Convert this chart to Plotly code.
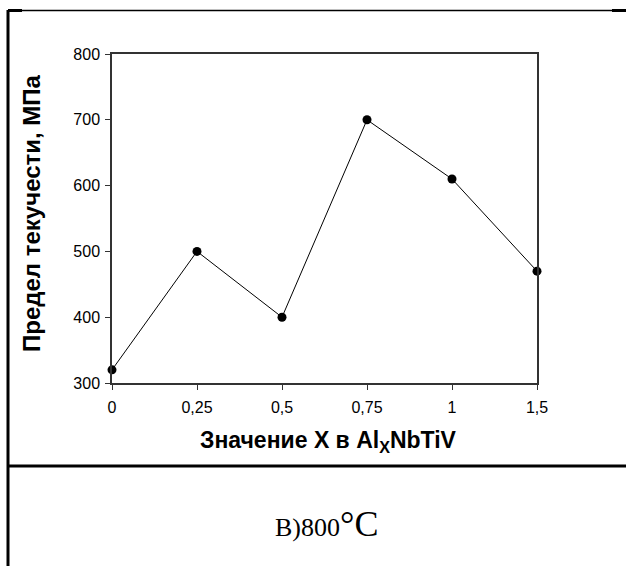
import plotly.graph_objects as go

x_labels = ["0", "0,25", "0,5", "0,75", "1", "1,5"]
yield_strength = [320, 500, 400, 700, 610, 470]
y_ticks = [300, 400, 500, 600, 700, 800]

W, H = 626, 566
L, R, T, B = 112, 537, 54, 383  # plot area in pixels


def px(x):
    return (x - L) / (R - L)


def py(y):
    return (B - y) / (B - T)


fig = go.Figure()
fig.add_trace(go.Scatter(
    x=x_labels, y=yield_strength, mode="lines+markers",
    line=dict(color="black", width=1),
    marker=dict(color="black", size=9),
    showlegend=False, cliponaxis=False,
))

axis_common = dict(
    showgrid=False, zeroline=False, showline=True, linecolor="#333",
    linewidth=1.5, mirror=True, ticks="outside", ticklen=5, tickwidth=1,
    tickcolor="#333",
    tickfont=dict(family="Liberation Sans, Arial", size=16, color="black"),
)

fig.update_layout(
    width=W, height=H,
    margin=dict(l=L, r=W - R, t=T, b=H - B),
    paper_bgcolor="white", plot_bgcolor="white",
    xaxis=dict(type="category", range=[0, 5], ticklabelstandoff=4, **axis_common),
    yaxis=dict(range=[300, 800], tickvals=y_ticks, ticklabelstandoff=2, **axis_common),
)

# axis titles
fig.add_annotation(
    xref="paper", yref="paper", x=px(328), y=py(441),
    text="<b>Значение X в Al<sub>X</sub>NbTiV</b>", showarrow=False,
    font=dict(family="Liberation Sans, Arial", size=23, color="black"),
    xanchor="center", yanchor="middle",
)
fig.add_annotation(
    xref="paper", yref="paper", x=px(31), y=py(213),
    text="<b>Предел текучести, МПа</b>", showarrow=False, textangle=-90,
    font=dict(family="Liberation Sans, Arial", size=24, color="black"),
    xanchor="center", yanchor="middle",
)

# caption
fig.add_annotation(
    xref="paper", yref="paper", x=px(326), y=py(524),
    text="В)800<span style='font-size:36px'>°С</span>", showarrow=False,
    font=dict(family="Liberation Serif, Times New Roman", size=26, color="black"),
    xanchor="center", yanchor="middle",
)

# table borders
line_style = dict(color="black", width=3)
fig.add_shape(type="line", xref="paper", yref="paper",
              x0=px(8), x1=px(8), y0=py(10), y1=py(566), line=line_style)
fig.add_shape(type="line", xref="paper", yref="paper",
              x0=px(8), x1=px(626), y0=py(466), y1=py(466), line=line_style)
fig.add_shape(type="line", xref="paper", yref="paper",
              x0=px(8), x1=px(626), y0=py(10.5), y1=py(10.5),
              line=dict(color="black", width=1.5))
fig.add_shape(type="line", xref="paper", yref="paper",
              x0=px(8), x1=px(22), y0=py(10.5), y1=py(10.5), line=line_style)
fig.add_shape(type="line", xref="paper", yref="paper",
              x0=px(612), x1=px(626), y0=py(10.5), y1=py(10.5), line=line_style)

fig.write_html("out.html")
